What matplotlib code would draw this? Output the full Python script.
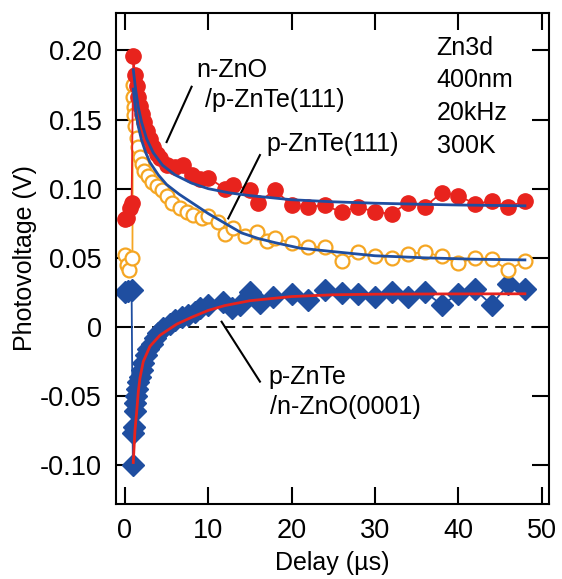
import matplotlib.pyplot as plt

plt.rcParams['font.family'] = ['Liberation Sans', 'DejaVu Sans']

# n-ZnO/p-ZnTe(111): red filled circles
red_t = [0.0, 0.3, 0.6, 0.8, 1.0, 1.2, 1.4, 1.6, 1.8, 2.0, 2.3, 2.6, 3.0, 3.4, 3.8, 4.2,
         5.0, 6.0, 7.0, 8.0, 9.0, 10.0, 12.0, 13.0, 15.0, 16.0, 18.0, 20.0, 22.0, 24.0,
         26.0, 28.0, 30.0, 32.0, 34.0, 36.0, 38.0, 40.0, 42.0, 44.0, 46.0, 48.0]
red_v = [0.078, 0.079, 0.086, 0.090, 0.196, 0.182, 0.174, 0.166, 0.160, 0.154, 0.148,
         0.142, 0.136, 0.130, 0.125, 0.122, 0.117, 0.116, 0.117, 0.110, 0.107, 0.108,
         0.100, 0.103, 0.099, 0.090, 0.099, 0.088, 0.087, 0.088, 0.083, 0.087, 0.083,
         0.082, 0.090, 0.087, 0.097, 0.095, 0.089, 0.091, 0.087, 0.091]
red_fit_t = [1.0, 1.3, 1.6, 2.0, 2.6, 3.4, 4.5, 6.0, 8.0, 10.0, 12.5, 15.0, 20.0, 25.0,
             30.0, 35.0, 40.0, 48.0]
red_fit_v = [0.186, 0.171, 0.159, 0.148, 0.136, 0.126, 0.117, 0.110, 0.104, 0.100,
             0.097, 0.095, 0.092, 0.0905, 0.0895, 0.0888, 0.0882, 0.0876]

# p-ZnTe(111): orange open circles
org_t = [0.0, 0.2, 0.5, 0.9, 0.95, 1.0, 1.05, 1.1, 1.2, 1.4, 1.55, 1.8, 2.0, 2.3, 2.8,
         3.2, 3.8, 4.4, 5.0, 5.6, 6.6, 7.4, 8.2, 9.2, 10.0, 11.2, 12.0, 13.0, 14.4, 15.8,
         17.0, 18.0, 20.0, 22.0, 24.0, 26.0, 28.0, 30.0, 32.0, 34.0, 36.0, 38.0, 40.0,
         42.0, 44.0, 46.0, 48.0]
org_v = [0.052, 0.045, 0.041, 0.050, 0.175, 0.166, 0.159, 0.153, 0.145, 0.137, 0.130,
         0.123, 0.118, 0.113, 0.109, 0.105, 0.102, 0.099, 0.095, 0.090, 0.086, 0.083,
         0.081, 0.079, 0.080, 0.076, 0.067, 0.0715, 0.066, 0.069, 0.062, 0.064, 0.061,
         0.058, 0.0576, 0.048, 0.054, 0.051, 0.050, 0.053, 0.054, 0.051, 0.046, 0.050,
         0.049, 0.041, 0.048]
org_fit_t = [1.0, 1.3, 1.6, 2.0, 2.5, 3.0, 4.0, 5.0, 6.5, 8.0, 10.0, 12.0, 14.0, 16.0,
             18.0, 21.0, 25.0, 30.0, 36.0, 42.0, 48.0]
org_fit_v = [0.172, 0.156, 0.145, 0.135, 0.126, 0.119, 0.110, 0.103, 0.096, 0.090,
             0.082, 0.075, 0.068, 0.064, 0.061, 0.057, 0.0545, 0.0515, 0.050, 0.049,
             0.0485]

# p-ZnTe/n-ZnO(0001): blue diamonds
dia_t = [0.0, 0.4, 0.8, 0.95, 1.0, 1.05, 1.15, 1.2, 1.3, 1.4, 1.6, 1.8, 2.0, 2.2, 2.5,
         2.8, 3.2, 3.6, 4.0, 4.6, 5.4, 6.0, 6.8, 7.6, 8.4, 9.0, 10.0, 11.8, 12.8, 13.8,
         15.0, 16.2, 17.8, 20.0, 22.0, 24.0, 26.0, 28.0, 30.0, 32.0, 34.0, 36.0, 38.0,
         40.0, 42.0, 44.0, 46.0, 48.0]
dia_v = [0.025, 0.026, 0.027, -0.0997, -0.077, -0.072, -0.061, -0.055, -0.050, -0.045,
         -0.040, -0.036, -0.031, -0.026, -0.020, -0.016, -0.012, -0.008, -0.004, -0.001,
         0.002, 0.005, 0.007, 0.009, 0.011, 0.0135, 0.016, 0.018, 0.0135, 0.016, 0.0255,
         0.017, 0.022, 0.0235, 0.0195, 0.0265, 0.0248, 0.0238, 0.022, 0.0255, 0.022,
         0.0255, 0.016, 0.0238, 0.0272, 0.016, 0.031, 0.0272]
dia_fit_t = [1.0, 1.2, 1.4, 1.6, 1.8, 2.2, 3.0, 4.2, 6.2, 8.0, 10.0, 12.0, 15.0, 20.0,
             25.0, 30.0, 38.0, 48.0]
dia_fit_v = [-0.098, -0.075, -0.062, -0.047, -0.037, -0.025, -0.014, -0.006, 0.002,
             0.007, 0.012, 0.0155, 0.019, 0.022, 0.0233, 0.0237, 0.0239, 0.024]

x_ticks = [0, 10, 20, 30, 40, 50]
y_ticks = [0.20, 0.15, 0.10, 0.05, 0.0, -0.05, -0.10]
y_tick_labels = ['0.20', '0.15', '0.10', '0.05', '0', '-0.05', '-0.10']

RED = '#e8231d'
ORANGE = '#f5a623'
BLUE = '#1f4ea0'
FS = 18

fig = plt.figure(figsize=(5.62, 5.79), dpi=100)
ax = fig.add_axes([0.206, 0.1295, 0.771, 0.848])

ax.axhline(0, color='black', lw=1.3, ls=(0, (6, 4)), zorder=1)

ax.plot(dia_t, dia_v, color=BLUE, lw=1.3, marker='D', ms=11.5, mec=BLUE, mfc=BLUE, zorder=2)
ax.plot(dia_fit_t, dia_fit_v, color=RED, lw=2.0, zorder=3)

ax.plot(org_t, org_v, color=ORANGE, lw=1.3, marker='o', ms=10, mfc='white', mec=ORANGE,
        mew=1.6, zorder=2)
ax.plot(org_fit_t, org_fit_v, color=BLUE, lw=2.0, zorder=3)

ax.plot(red_t, red_v, color=RED, lw=1.3, marker='o', ms=11, mec=RED, mfc=RED, zorder=2)
ax.plot(red_fit_t, red_fit_v, color=BLUE, lw=2.0, zorder=3)

# annotation leaders
ax.plot([5.0, 8.0], [0.1337, 0.1737], color='black', lw=1.5)
ax.plot([12.4, 16.2], [0.0785, 0.1243], color='black', lw=1.5)
ax.plot([11.6, 16.2], [0.0038, -0.0395], color='black', lw=1.5)

ax.text(8.6, 0.1857, 'n-ZnO', fontsize=FS, va='center')
ax.text(9.6, 0.164, '/p-ZnTe(111)', fontsize=FS, va='center')
ax.text(17.0, 0.132, 'p-ZnTe(111)', fontsize=FS, va='center')
ax.text(17.2, -0.036, 'p-ZnTe', fontsize=FS, va='center')
ax.text(17.4, -0.058, '/n-ZnO(0001)', fontsize=FS, va='center')
for label, yy in zip(['Zn3d', '400nm', '20kHz', '300K'], [0.202, 0.1785, 0.1546, 0.1308]):
    ax.text(37.4, yy, label, fontsize=FS, va='center')

ax.set_xlim(-1.1, 50.9)
ax.set_ylim(-0.128, 0.227)
ax.set_xticks(x_ticks)
ax.set_yticks(y_ticks)
ax.set_yticklabels(y_tick_labels)
ax.tick_params(direction='in', length=12, width=1.5, labelsize=19.5, pad=10,
               top=True, right=True)
for s in ax.spines.values():
    s.set_linewidth(1.5)

ax.set_xlabel('Delay (\u00b5s)', fontsize=FS, labelpad=5)
ax.set_ylabel('Photovoltage (V)', fontsize=FS, labelpad=2)

fig.savefig('out.png', dpi=100)
